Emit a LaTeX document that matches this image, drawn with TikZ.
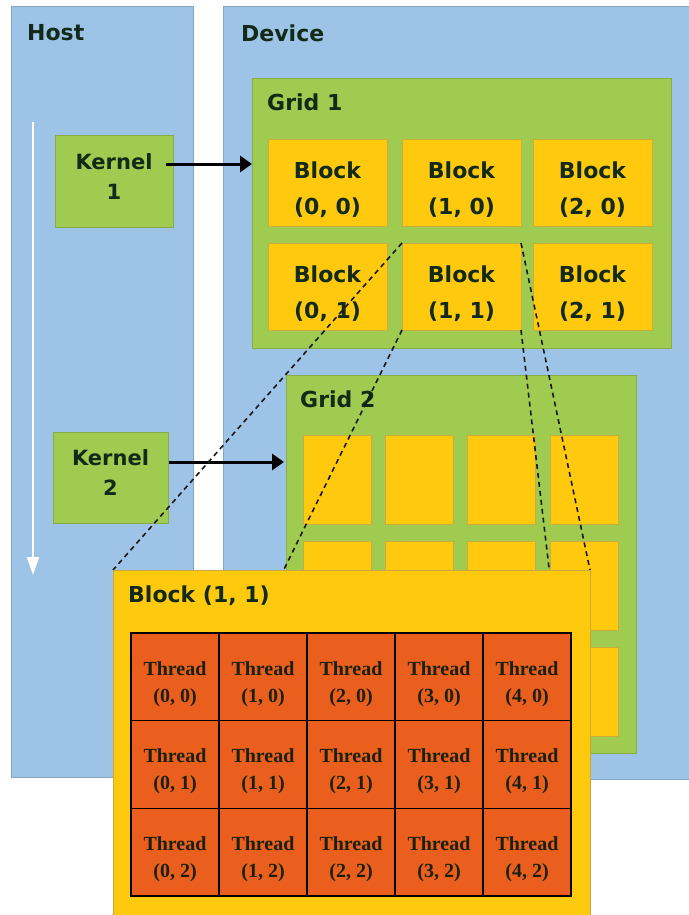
\documentclass[tikz,border=0pt]{standalone}
\usepackage{fontspec}
\usetikzlibrary{arrows.meta}
\newfontfamily\lblfont{DejaVu Sans}
\newfontfamily\thrfont{Liberation Serif}
\definecolor{pblue}{HTML}{9DC3E6}
\definecolor{pgreen}{HTML}{9FCB50}
\definecolor{pyellow}{HTML}{FFC90E}
\definecolor{porange}{HTML}{EA5F1E}
\definecolor{ptext}{HTML}{122A18}
\definecolor{pthr}{HTML}{1A200C}
\begin{document}
\begin{tikzpicture}[x=1pt,y=-1pt,
  box/.style={anchor=center, inner sep=0pt, outer sep=0pt, line width=0.6pt},
  panel/.style={box, fill=pblue, draw=pblue!85!black},
  gridbox/.style={box, fill=pgreen, draw=pgreen!85!black},
  blk/.style={box, fill=pyellow, draw=pyellow!60!gray},
  kern/.style={box, fill=pgreen, draw=pgreen!85!black},
  cell/.style={box, fill=porange, draw=black, line width=1.4pt},
  lbl/.style={inner sep=0pt, text=ptext, font=\lblfont\bfseries\fontsize{22pt}{36pt}\selectfont},
  blktxt/.style={lbl, align=center},
  kerntxt/.style={inner sep=0pt, text=ptext, align=center, font=\lblfont\bfseries\fontsize{21pt}{30pt}\selectfont},
  thrtxt/.style={inner sep=0pt, text=pthr, align=center, font=\thrfont\bfseries\fontsize{20pt}{27pt}\selectfont},
  karrow/.style={black, line width=3pt, -{Triangle[length=12pt,width=16pt]}},
  zoomline/.style={black!90, line width=1.6pt, dash pattern=on 5pt off 4pt},
]
\useasboundingbox (0,0) rectangle (688,915);
\fill[white] (0,0) rectangle (688,915);

% panels
\node[panel, minimum width=182pt, minimum height=771pt] (host) at (102,391.5) {};
\node[panel, minimum width=470pt, minimum height=773pt] (device) at (458,392.5) {};
\node[lbl, anchor=base west] (hostlbl) at (27,41) {Host};
\node[lbl, anchor=base west] (devlbl) at (241,42) {Device};

% host time arrow
\coordinate (t0) at (33,122);
\coordinate (t1) at (33,575);
\draw[white, line width=2pt, -{Triangle[length=18pt,width=12pt]}] (t0) -- (t1);

% grid 1
\node[gridbox, minimum width=419pt, minimum height=270pt] (grid1) at (461.5,213) {};
\node[lbl, anchor=base west] (g1lbl) at (267,111) {Grid 1};
\foreach \c/\x in {0/268,1/402,2/533}{
  \foreach \r/\y in {0/139,1/243}{
    \node[blk, minimum width=119pt, minimum height=87pt] (b\c\r) at (\x+59.5,\y+43.5) {};
    \node[blktxt] (bt\c\r) at ([yshift=-7pt]b\c\r.center) {Block\\(\c, \r)};
  }
}

% grid 2
\node[gridbox, minimum width=350pt, minimum height=378pt] (grid2) at (461,564) {};
\node[lbl, anchor=base west] (g2lbl) at (300,407) {Grid 2};
\foreach \c/\x in {0/303,1/385,2/467,3/550}{
  \foreach \r/\y in {0/435,1/541,2/647}{
    \node[blk, minimum width=68pt, minimum height=89pt] (g\c\r) at (\x+34,\y+44.5) {};
  }
}

% kernels
\node[kern, minimum width=118pt, minimum height=92pt] (k1) at (114,181) {};
\node[kerntxt] (k1t) at ([yshift=4pt]k1.center) {Kernel\\1};
\node[kern, minimum width=115pt, minimum height=91pt] (k2) at (110.5,477.5) {};
\node[kerntxt] (k2t) at ([yshift=5pt]k2.center) {Kernel\\2};

\coordinate (k1out) at (166,164);
\draw[karrow] (k1out) -- (k1out -| grid1.west);
\coordinate (k2out) at (169,462);
\draw[karrow] (k2out) -- ([xshift=-2pt]k2out -| grid2.west);

% detail box geometry (reference for the zoom lines)
\node[box, minimum width=477pt, minimum height=346pt] (detail) at (351.5,743) {};

% zoom lines (behind the detail box)
\draw[zoomline] (b11.north west) -- (detail.north west);
\draw[zoomline] (b11.south west) -- (detail.south west);
\draw[zoomline] (b11.north east) -- (detail.north east);
\draw[zoomline] (b11.south east) -- (detail.south east);

% detail box on top
\node[blk, minimum width=477pt, minimum height=346pt, draw=pyellow!55!gray] (detailtop) at (351.5,743) {};
\node[lbl, anchor=base west] (dlbl) at (128,602) {Block (1, 1)};

\foreach \c in {0,...,4}{
  \foreach \r in {0,1,2}{
    \node[cell, minimum width=88pt, minimum height=87.7pt] (t\c\r) at (131+88*\c+44, 633+87.7*\r+43.85) {};
    \node[thrtxt] (tt\c\r) at ([yshift=-7pt]t\c\r.center) {Thread\\(\c, \r)};
  }
}
\end{tikzpicture}
\end{document}
